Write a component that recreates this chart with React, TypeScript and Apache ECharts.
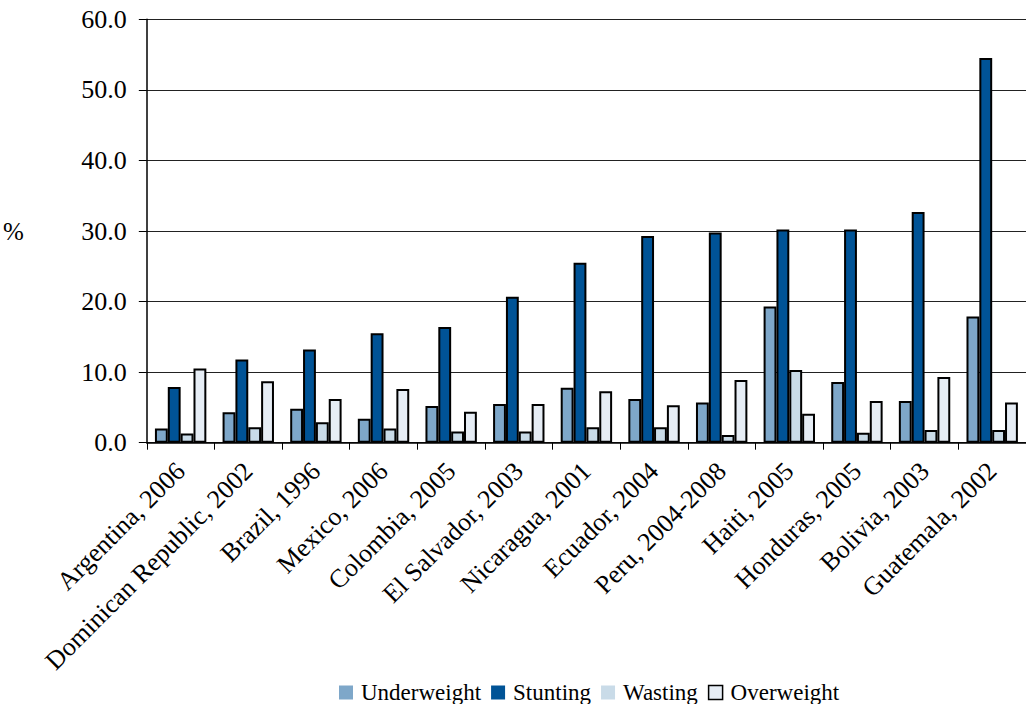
import React, { useEffect, useRef } from "react";
import * as echarts from "echarts";

const categories = [
  "Argentina, 2006",
  "Dominican Republic, 2002",
  "Brazil, 1996",
  "Mexico, 2006",
  "Colombia, 2005",
  "El Salvador, 2003",
  "Nicaragua, 2001",
  "Ecuador, 2004",
  "Peru, 2004-2008",
  "Haiti, 2005",
  "Honduras, 2005",
  "Bolivia, 2003",
  "Guatemala, 2002",
];

const underweight = [2.0, 4.3, 4.8, 3.4, 5.2, 5.5, 7.8, 6.2, 5.7, 19.3, 8.6, 5.9, 17.9];
const stunting = [7.9, 11.8, 13.2, 15.5, 16.4, 20.7, 25.5, 29.3, 29.8, 30.2, 30.2, 32.7, 54.5];
const wasting = [1.3, 2.2, 2.9, 2.0, 1.6, 1.6, 2.2, 2.2, 1.1, 10.3, 1.4, 1.8, 1.8];
const overweight = [10.5, 8.7, 6.2, 7.6, 4.4, 5.5, 7.3, 5.3, 8.9, 4.1, 5.9, 9.3, 5.7];

const yTicks = { min: 0, max: 60, interval: 10 };

const FONT = "Liberation Serif";

export default function App() {
  const ref = useRef<HTMLDivElement>(null);

  useEffect(() => {
    if (!ref.current) return;
    const chart = echarts.init(ref.current, undefined, { renderer: "svg" });
    const border = { borderColor: "#000", borderWidth: 2 };
    const mk = (name: string, data: number[], color: string) => ({
      name,
      type: "bar",
      data,
      barGap: "0%",
      barCategoryGap: "24%",
      itemStyle: { color, ...border },
    });
    chart.setOption({
      animation: false,
      backgroundColor: "#fff",
      textStyle: { fontFamily: FONT, color: "#000" },
      grid: { left: 145, right: -12, top: 19.3, bottom: 261.3, containLabel: false },
      legend: {
        top: 676,
        left: 334,
        itemWidth: 14,
        itemHeight: 14,
        itemGap: 10,
        icon: "rect",
        textStyle: { fontFamily: FONT, fontSize: 23, color: "#000", padding: [0, 0, 0, 3] },
        data: [
          { name: "Underweight", itemStyle: { borderWidth: 0 } },
          { name: "Stunting", itemStyle: { borderWidth: 0 } },
          { name: "Wasting", itemStyle: { borderWidth: 0 } },
          { name: "Overweight", itemStyle: { borderColor: "#000", borderWidth: 1.5 } },
        ],
      },
      xAxis: {
        type: "category",
        data: categories,
        axisLine: { lineStyle: { color: "#000", width: 1.5 } },
        axisTick: { show: true, length: 7, lineStyle: { color: "#000" } },
        axisLabel: {
          rotate: 45,
          interval: 0,
          margin: 24,
          fontFamily: FONT,
          fontSize: 26,
          color: "#000",
        },
      },
      yAxis: {
        type: "value",
        min: yTicks.min,
        max: yTicks.max,
        interval: yTicks.interval,
        name: "%",
        nameLocation: "middle",
        nameRotate: 0,
        nameGap: 123,
        nameTextStyle: { fontFamily: FONT, fontSize: 25, color: "#000" },
        axisLine: { show: true, lineStyle: { color: "#000", width: 1.5 } },
        axisTick: { show: true, inside: false, length: 8, lineStyle: { color: "#000" } },
        axisLabel: {
          margin: 20,
          fontFamily: FONT,
          fontSize: 26,
          color: "#000",
          formatter: (v: number) => v.toFixed(1),
        },
        splitLine: { show: true, lineStyle: { color: "#222", width: 1.2 } },
      },
      series: [
        mk("Underweight", underweight, "#7ea7c9"),
        mk("Stunting", stunting, "#005396"),
        mk("Wasting", wasting, "#c9dbe8"),
        mk("Overweight", overweight, "#e6edf5"),
      ],
    });
    return () => chart.dispose();
  }, []);

  return (
    <div
      ref={ref}
      style={{ position: "fixed", left: 0, top: 0, width: 1026, height: 704, overflow: "hidden" }}
    />
  );
}
